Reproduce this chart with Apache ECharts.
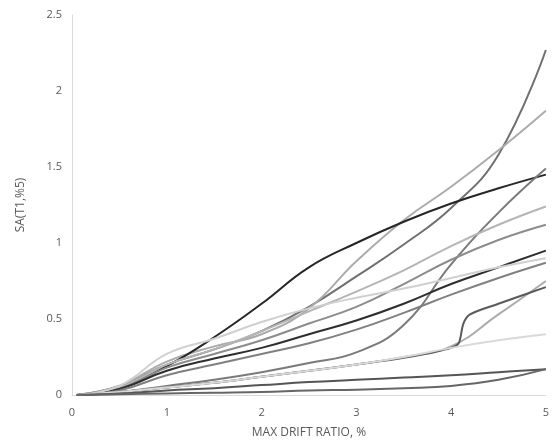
<!DOCTYPE html>
<html>
<head>
<meta charset="utf-8">
<script src="https://cdn.jsdelivr.net/npm/echarts@6/dist/echarts.min.js"></script>
<style>
  html, body { margin: 0; padding: 0; background: #fff; }
  #chart { width: 552px; height: 445px; }
</style>
</head>
<body>
<div id="chart"></div>
<script>
// drift ratio (%) where each curve was sampled
const driftPts = [0.05, 0.5, 1, 1.5, 2, 2.5, 3, 3.5, 4, 4.5, 5]
// the record with the jump near 4.1% has its own samples
const driftPtsK = [0.2, 0.5, 1, 1.5, 2, 2.5, 3, 3.5, 3.8, 4.0, 4.08, 4.13, 4.2, 4.5, 5]

const saA = [0, 0.06, 0.2, 0.3, 0.42, 0.58, 0.78, 0.99, 1.23, 1.58, 2.27]
const saB = [0, 0.06, 0.22, 0.32, 0.4, 0.57, 0.88, 1.15, 1.37, 1.61, 1.87]
const saC = [0, 0.05, 0.19, 0.38, 0.6, 0.84, 1.0, 1.14, 1.26, 1.36, 1.45]
const saD = [0, 0.02, 0.06, 0.1, 0.15, 0.21, 0.28, 0.46, 0.86, 1.2, 1.49]
const saE = [0, 0.05, 0.2, 0.3, 0.42, 0.55, 0.68, 0.82, 0.98, 1.12, 1.24]
const saF = [0, 0.04, 0.18, 0.27, 0.36, 0.47, 0.58, 0.73, 0.89, 1.02, 1.12]
const saG = [0, 0.04, 0.16, 0.24, 0.31, 0.4, 0.49, 0.6, 0.73, 0.84, 0.95]
const saH = [0, 0.06, 0.27, 0.37, 0.48, 0.57, 0.64, 0.7, 0.77, 0.84, 0.9]
const saI = [0, 0.03, 0.13, 0.2, 0.27, 0.34, 0.43, 0.54, 0.66, 0.77, 0.87]
const saJ = [0, 0.02, 0.05, 0.08, 0.12, 0.16, 0.2, 0.25, 0.32, 0.53, 0.75]
const saK = [0, 0.02, 0.05, 0.08, 0.12, 0.16, 0.2, 0.245, 0.28, 0.31, 0.34, 0.47, 0.53, 0.6, 0.71]
const saL = [0, 0.02, 0.05, 0.08, 0.12, 0.16, 0.2, 0.25, 0.31, 0.36, 0.4]
const saM = [0, 0.01, 0.03, 0.045, 0.065, 0.085, 0.1, 0.115, 0.13, 0.15, 0.17]
const saN = [0, 0.005, 0.01, 0.015, 0.02, 0.03, 0.035, 0.045, 0.06, 0.1, 0.17]

const xTicks = [0, 1, 2, 3, 4, 5]
const yTicks = [0, 0.5, 1, 1.5, 2, 2.5]

const records = [
  { name: 'A', x: driftPts, y: saA, color: '#707070' },
  { name: 'B', x: driftPts, y: saB, color: '#ababab' },
  { name: 'C', x: driftPts, y: saC, color: '#262626' },
  { name: 'D', x: driftPts, y: saD, color: '#7a7a7a' },
  { name: 'E', x: driftPts, y: saE, color: '#b5b5b5' },
  { name: 'F', x: driftPts, y: saF, color: '#8c8c8c' },
  { name: 'G', x: driftPts, y: saG, color: '#2e2e2e' },
  { name: 'H', x: driftPts, y: saH, color: '#d0d0d0' },
  { name: 'I', x: driftPts, y: saI, color: '#808080' },
  { name: 'J', x: driftPts, y: saJ, color: '#ababab' },
  { name: 'K', x: driftPtsK, y: saK, color: '#5a5a5a' },
  { name: 'L', x: driftPts, y: saL, color: '#d9d9d9' },
  { name: 'M', x: driftPts, y: saM, color: '#555555' },
  { name: 'N', x: driftPts, y: saN, color: '#666666' }
]

const chart = echarts.init(document.getElementById('chart'))

const labelStyle = { color: '#595959', fontSize: 11, fontFamily: 'Open Sans' }

chart.setOption({
  animation: false,
  grid: { left: 72, right: 6, top: 15, bottom: 50 },
  xAxis: {
    type: 'value',
    min: 0,
    max: 5,
    interval: 1,
    name: 'MAX DRIFT RATIO, %',
    nameLocation: 'middle',
    nameGap: 32,
    nameTextStyle: { color: '#595959', fontSize: 12, fontFamily: 'Open Sans' },
    axisLine: { show: true, lineStyle: { color: '#d9d9d9', width: 1 } },
    axisTick: { show: false },
    splitLine: { show: false },
    axisLabel: Object.assign({ margin: 12, formatter: v => xTicks.includes(v) ? String(v) : '' }, labelStyle)
  },
  yAxis: {
    type: 'value',
    min: 0,
    max: 2.5,
    interval: 0.5,
    name: 'SA(T1,%5)',
    nameLocation: 'middle',
    nameGap: 45,
    nameTextStyle: { color: '#595959', fontSize: 12, fontFamily: 'Open Sans' },
    axisLine: { show: true, lineStyle: { color: '#d9d9d9', width: 1 } },
    axisTick: { show: false },
    splitLine: { show: false },
    axisLabel: Object.assign({ margin: 10, formatter: v => yTicks.includes(v) ? String(v) : '' }, labelStyle)
  },
  series: records.map(r => ({
    name: r.name,
    type: 'line',
    smooth: r.name === 'K' ? 0.3 : 0.45,
    showSymbol: false,
    data: r.x.map((x, i) => [x, r.y[i]]),
    lineStyle: { color: r.color, width: 2 },
    itemStyle: { color: r.color }
  }))
})
</script>
</body>
</html>
